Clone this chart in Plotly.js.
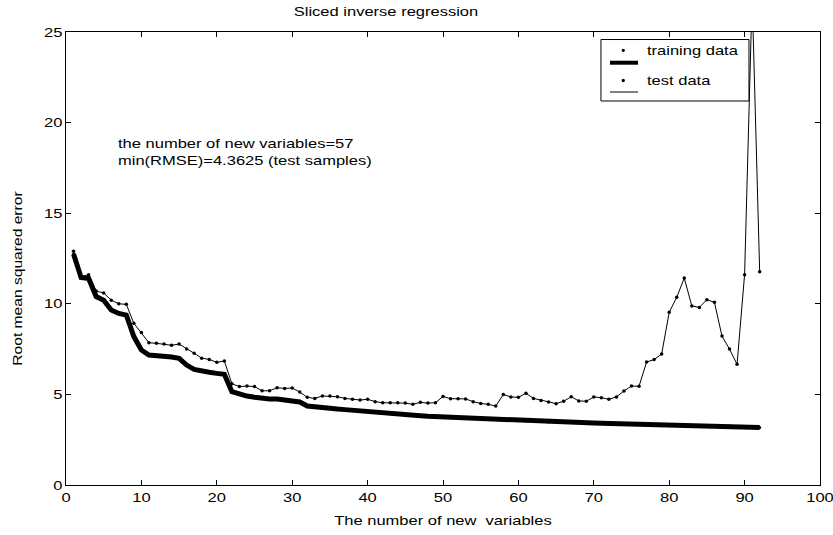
<!DOCTYPE html>
<html>
<head>
<meta charset="utf-8">
<script src="https://cdn.plot.ly/plotly-3.0.1.min.js"></script>
<style>html,body{margin:0;padding:0;background:#fff;}#chart{width:833px;height:535px;}</style>
</head>
<body>
<div id="chart"></div>
<script>
// Number of new variables 1..92
const nVars = Array.from({length: 92}, (_, i) => i + 1);

// RMSE of the training data
const trainRMSE = [12.75, 11.45, 11.4, 10.4, 10.2, 9.66, 9.47, 9.38, 8.19, 7.45,
  7.17, 7.14, 7.14, 7.06, 6.99, 6.62, 6.38, 6.28, 6.22, 6.16,
  6.11, 5.15, 5.0, 4.91, 4.84, 4.78, 4.75, 4.75, 4.71, 4.67,
  4.58, 4.36, 4.3, 4.25, 4.21, 4.19, 4.16, 4.12, 4.1, 4.06,
  4.03, 3.97, 3.93, 3.92, 3.9, 3.85, 3.82, 3.79, 3.77, 3.75,
  3.74, 3.72, 3.71, 3.68, 3.66, 3.64, 3.62, 3.59, 3.57, 3.55,
  3.53, 3.51, 3.5, 3.48, 3.47, 3.46, 3.45, 3.44, 3.43, 3.42,
  3.41, 3.40, 3.39, 3.385, 3.38, 3.37, 3.36, 3.35, 3.34, 3.33,
  3.32, 3.31, 3.3, 3.29, 3.28, 3.27, 3.26, 3.25, 3.23, 3.21,
  3.19, 3.18];

// RMSE of the test data
const testRMSE = [12.9, 11.5, 11.6, 10.7, 10.6, 10.2, 10.0, 9.97, 8.92, 8.41,
  7.85, 7.82, 7.78, 7.71, 7.78, 7.5, 7.27, 7.0, 6.93, 6.77,
  6.84, 5.59, 5.43, 5.46, 5.43, 5.2, 5.2, 5.37, 5.33, 5.35,
  5.13, 4.84, 4.78, 4.91, 4.91, 4.87, 4.78, 4.73, 4.69, 4.73,
  4.6, 4.54, 4.54, 4.54, 4.52, 4.45, 4.56, 4.52, 4.54, 4.89,
  4.76, 4.76, 4.75, 4.6, 4.5, 4.45, 4.36, 4.99, 4.86, 4.84,
  5.06, 4.78, 4.67, 4.58, 4.49, 4.62, 4.87, 4.64, 4.62, 4.86,
  4.82, 4.73, 4.86, 5.19, 5.46, 5.45, 6.79, 6.92, 7.23, 9.53,
  10.36, 11.42, 9.88, 9.8, 10.23, 10.08, 8.22, 7.5, 6.66, 11.61,
  27, 11.77];

const xTicks = [0, 10, 20, 30, 40, 50, 60, 70, 80, 90, 100];
const yTicks = [0, 5, 10, 15, 20, 25];
const legendNames = ['training data', 'test data'];
const noteLines = ['the number of new variables=57', 'min(RMSE)=4.3625 (test samples)'];

const FONT = 'Liberation Sans, Arial, Helvetica, sans-serif';
const STRETCH = 1.27;   // reference text is horizontally stretched
const STRETCH_Y = 1.2;  // vertical axis title
const YTITLE_SHIFT = 20; // vertical axis title sits a little below the axis centre

const traces = [
  {x: nVars, y: trainRMSE, mode: 'markers', name: legendNames[0],
   marker: {color: '#000', size: 3}, hoverinfo: 'skip'},
  {x: nVars, y: trainRMSE, mode: 'lines', name: ' ',
   line: {color: '#000', width: 5}, hoverinfo: 'skip'},
  {x: nVars, y: testRMSE, mode: 'markers', name: legendNames[1],
   marker: {color: '#000', size: 3.5}, hoverinfo: 'skip'},
  {x: nVars, y: testRMSE, mode: 'lines', name: ' ',
   line: {color: '#000', width: 1}, hoverinfo: 'skip'}
];

const axisCommon = {
  showgrid: false, zeroline: false, showline: true, linecolor: '#000', linewidth: 1,
  mirror: 'ticks', ticks: 'inside', ticklen: 5, tickcolor: '#000',
  tickfont: {family: FONT, size: 13, color: '#000'}
};

// legend drawn as a box with samples (paper coordinates)
const lg = {x0: 0.7095, x1: 0.9058, y0: 0.8477, y1: 0.9834,
  sx0: 0.7215, sx1: 0.7586, dotX: 0.7391, textX: 0.7679,
  row: [0.9595, 0.9322, 0.8930, 0.8675]};
const dr = 0.0022;

const layout = {
  width: 833, height: 535,
  margin: {l: 66, r: 13, t: 32, b: 50},
  paper_bgcolor: '#fff', plot_bgcolor: '#fff',
  font: {family: FONT, color: '#000'},
  showlegend: false,
  title: {text: 'Sliced inverse regression', font: {family: FONT, size: 13},
    xref: 'paper', x: 0.4244, xanchor: 'center', yref: 'container', y: 0.978, yanchor: 'middle'},
  xaxis: Object.assign({}, axisCommon, {
    range: [0, 100], tickvals: xTicks, ticktext: xTicks.map(String),
    title: {text: 'The number of new\u00a0 variables', font: {family: FONT, size: 13}, standoff: 12}
  }),
  yaxis: Object.assign({}, axisCommon, {
    range: [0, 25], tickvals: yTicks, ticktext: yTicks.map(String),
    title: {text: 'Root mean squared error', font: {family: FONT, size: 13}, standoff: 22}
  }),
  shapes: [
    {type: 'rect', xref: 'paper', yref: 'paper', x0: lg.x0, x1: lg.x1, y0: lg.y0, y1: lg.y1,
     line: {color: '#000', width: 1}, fillcolor: '#fff', layer: 'above'},
    {type: 'circle', xref: 'paper', yref: 'paper', x0: lg.dotX - dr, x1: lg.dotX + dr,
     y0: lg.row[0] - dr * 1.66, y1: lg.row[0] + dr * 1.66, fillcolor: '#000', line: {width: 0}, layer: 'above'},
    {type: 'line', xref: 'paper', yref: 'paper', x0: lg.sx0, x1: lg.sx1, y0: lg.row[1], y1: lg.row[1],
     line: {color: '#000', width: 4}, layer: 'above'},
    {type: 'circle', xref: 'paper', yref: 'paper', x0: lg.dotX - dr, x1: lg.dotX + dr,
     y0: lg.row[2] - dr * 1.66, y1: lg.row[2] + dr * 1.66, fillcolor: '#000', line: {width: 0}, layer: 'above'},
    {type: 'line', xref: 'paper', yref: 'paper', x0: lg.sx0, x1: lg.sx1, y0: lg.row[3], y1: lg.row[3],
     line: {color: '#000', width: 1}, layer: 'above'}
  ],
  annotations: [
    {xref: 'paper', yref: 'paper', x: lg.textX, y: lg.row[0], xanchor: 'left', yanchor: 'middle',
     showarrow: false, font: {family: FONT, size: 13, color: '#000'}, text: legendNames[0]},
    {xref: 'paper', yref: 'paper', x: lg.textX, y: lg.row[2], xanchor: 'left', yanchor: 'middle',
     showarrow: false, font: {family: FONT, size: 13, color: '#000'}, text: legendNames[1]},
    {xref: 'x', yref: 'y', x: 6.6, y: 18.87, xanchor: 'left', yanchor: 'middle', align: 'left',
     showarrow: false, font: {family: FONT, size: 13, color: '#000'}, text: noteLines[0]},
    {xref: 'x', yref: 'y', x: 6.6, y: 17.9, xanchor: 'left', yanchor: 'middle', align: 'left',
     showarrow: false, font: {family: FONT, size: 13, color: '#000'}, text: noteLines[1]}
  ]
};

function stretchText(t, factor, forceStart, extraDx) {
  const len = t.getComputedTextLength();
  if (!len) return;
  const anchor = forceStart ? 'start' : (t.getAttribute('text-anchor') || getComputedStyle(t).textAnchor || 'start');
  const b0 = t.getBBox();
  t.setAttribute('textLength', (len * factor).toFixed(2));
  t.setAttribute('lengthAdjust', 'spacingAndGlyphs');
  const b1 = t.getBBox();
  let dx;
  if (anchor === 'middle') dx = (b0.x + b0.width / 2) - (b1.x + b1.width / 2);
  else if (anchor === 'end') dx = (b0.x + b0.width) - (b1.x + b1.width);
  else dx = b0.x - b1.x;
  dx += (extraDx || 0);
  if (Math.abs(dx) > 0.01) {
    const x = parseFloat(t.getAttribute('x')) || 0;
    t.setAttribute('x', (x + dx).toFixed(2));
  }
}

Plotly.newPlot('chart', traces, layout, {displayModeBar: false, staticPlot: true}).then(gd => {
  gd.querySelectorAll('.xtick text, .ytick text, .g-gtitle text, .g-xtitle text').forEach(t => stretchText(t, STRETCH, false, 0));
  gd.querySelectorAll('text.annotation-text').forEach(t => stretchText(t, STRETCH, true, 0));
  // rotated -90deg: moving along its own x axis by -d moves the text d pixels down
  gd.querySelectorAll('.g-ytitle text').forEach(t => stretchText(t, STRETCH_Y, false, -YTITLE_SHIFT));
});
</script>
</body>
</html>
